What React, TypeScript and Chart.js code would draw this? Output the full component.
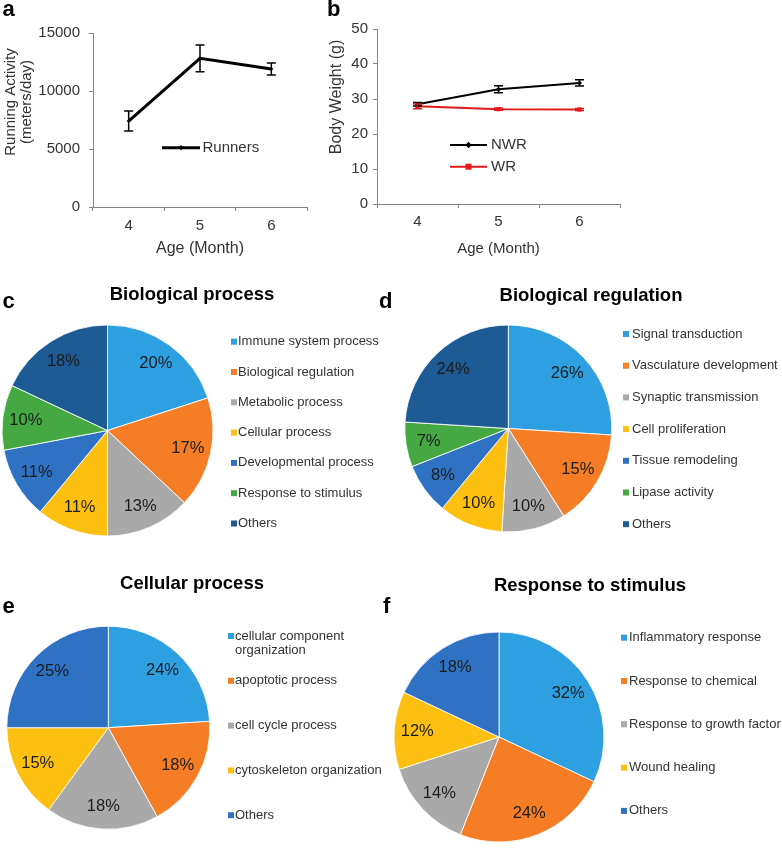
import React, { useEffect, useRef } from "react";
import { Chart, registerables } from "chart.js";

Chart.register(...registerables);

const FONT = '"Liberation Sans", Arial, Helvetica, sans-serif';
const AXIS_GRAY = "#868686";
const TEXT = "#333333";

// ---------- data ----------
const ageMonths = ["4", "5", "6"];
const runnersMean = [7410, 12820, 11900];
const runnersErr = [860, 1150, 520];
const nwrMean = [28.5, 32.8, 34.6];
const nwrErr = [0.5, 1.0, 0.9];
const wrMean = [27.9, 27.1, 27.0];
const wrErr = [0.7, 0.3, 0.3];

const bioProcessLabels = [
  "Immune system process",
  "Biological regulation",
  "Metabolic process",
  "Cellular process",
  "Developmental process",
  "Response to stimulus",
  "Others",
];
const bioProcessValues = [20, 17, 13, 11, 11, 10, 18];

const bioRegLabels = [
  "Signal transduction",
  "Vasculature development",
  "Synaptic transmission",
  "Cell proliferation",
  "Tissue remodeling",
  "Lipase activity",
  "Others",
];
const bioRegValues = [26, 15, 10, 10, 8, 7, 24];

const cellProcLabels = [
  ["cellular component", "organization"],
  "apoptotic process",
  "cell cycle process",
  "cytoskeleton organization",
  "Others",
];
const cellProcValues = [24, 18, 18, 15, 25];

const stimulusLabels = [
  "Inflammatory response",
  "Response to chemical",
  "Response to growth factor",
  "Wound healing",
  "Others",
];
const stimulusValues = [32, 24, 14, 12, 18];

const C_LBLUE = "#2e9fe0";
const C_ORANGE = "#f57d25";
const C_GRAY = "#a9a9a9";
const C_YELLOW = "#fdc010";
const C_BLUE = "#2f72c4";
const C_GREEN = "#45a843";
const C_DBLUE = "#1e5b95";
const sevenColors = [C_LBLUE, C_ORANGE, C_GRAY, C_YELLOW, C_BLUE, C_GREEN, C_DBLUE];
const fiveColors = [C_LBLUE, C_ORANGE, C_GRAY, C_YELLOW, C_BLUE];

// ---------- plugins ----------
const errorBarPlugin = {
  id: "errorBars",
  afterDatasetsDraw(chart: any) {
    const ctx = chart.ctx;
    const yScale = chart.scales.y;
    chart.data.datasets.forEach((ds: any, di: number) => {
      const errs = ds.errorBars;
      if (!errs) return;
      const meta = chart.getDatasetMeta(di);
      ctx.save();
      ctx.strokeStyle = ds.borderColor;
      ctx.lineWidth = ds.errorWidth || 1.5;
      const c = ds.errorCap || 4.5;
      meta.data.forEach((pt: any, i: number) => {
        const v = ds.data[i];
        const e = errs[i];
        const yt = yScale.getPixelForValue(v + e);
        const yb = yScale.getPixelForValue(v - e);
        const x = pt.x;
        ctx.beginPath();
        ctx.moveTo(x, yt);
        ctx.lineTo(x, yb);
        ctx.moveTo(x - c, yt);
        ctx.lineTo(x + c, yt);
        ctx.moveTo(x - c, yb);
        ctx.lineTo(x + c, yb);
        ctx.stroke();
      });
      ctx.restore();
    });
  },
};

function drawMarker(ctx: any, style: string, x: number, y: number, r: number, color: string) {
  ctx.fillStyle = color;
  if (style === "rect") {
    ctx.fillRect(x - r, y - r, 2 * r, 2 * r);
  } else {
    ctx.beginPath();
    ctx.moveTo(x, y - r * 1.3);
    ctx.lineTo(x + r * 1.3, y);
    ctx.lineTo(x, y + r * 1.3);
    ctx.lineTo(x - r * 1.3, y);
    ctx.closePath();
    ctx.fill();
  }
}

const lineLegendPlugin = {
  id: "lineLegend",
  afterDraw(chart: any, _a: any, opts: any) {
    const ctx = chart.ctx;
    (opts.items || []).forEach((it: any, i: number) => {
      const ds = chart.data.datasets[i];
      ctx.save();
      ctx.strokeStyle = ds.borderColor;
      ctx.lineWidth = ds.borderWidth;
      ctx.beginPath();
      ctx.moveTo(it.x1, it.y);
      ctx.lineTo(it.x2, it.y);
      ctx.stroke();
      drawMarker(ctx, ds.pointStyle, (it.x1 + it.x2) / 2, it.y, ds.pointRadius, ds.pointBackgroundColor);
      ctx.fillStyle = TEXT;
      ctx.font = `${opts.size}px ${FONT}`;
      ctx.textAlign = "left";
      ctx.textBaseline = "middle";
      ctx.fillText(ds.label, it.textX, it.y);
      ctx.restore();
    });
  },
};

const yTitlePlugin = {
  id: "yTitle",
  afterDraw(chart: any, _a: any, opts: any) {
    const ctx = chart.ctx;
    ctx.save();
    ctx.fillStyle = TEXT;
    ctx.font = `${opts.size}px ${FONT}`;
    ctx.textAlign = "center";
    ctx.textBaseline = "middle";
    (opts.lines || []).forEach((ln: string, k: number) => {
      ctx.save();
      ctx.translate(opts.xs[k], opts.y);
      ctx.rotate(-Math.PI / 2);
      ctx.fillText(ln, 0, 0);
      ctx.restore();
    });
    ctx.restore();
  },
};

const pieLabelPlugin = {
  id: "pieLabels",
  afterDatasetsDraw(chart: any, _a: any, opts: any) {
    const ctx = chart.ctx;
    const meta = chart.getDatasetMeta(0);
    const ds = chart.data.datasets[0];
    ctx.save();
    ctx.font = `${opts.size}px ${FONT}`;
    ctx.fillStyle = opts.color;
    ctx.textAlign = "center";
    ctx.textBaseline = "middle";
    meta.data.forEach((arc: any, i: number) => {
      const mid = (arc.startAngle + arc.endAngle) / 2;
      const r = arc.outerRadius * opts.radius;
      ctx.fillText(ds.data[i] + "%", arc.x + Math.cos(mid) * r, arc.y + Math.sin(mid) * r);
    });
    ctx.restore();
  },
};

const pieLegendPlugin = {
  id: "pieLegend",
  afterDraw(chart: any, _a: any, opts: any) {
    const ctx = chart.ctx;
    const labels = chart.data.labels;
    const colors = chart.data.datasets[0].backgroundColor;
    ctx.save();
    ctx.font = `${opts.size}px ${FONT}`;
    ctx.textAlign = "left";
    ctx.textBaseline = "middle";
    labels.forEach((lab: any, i: number) => {
      const y = opts.y0 + i * opts.spacing;
      ctx.fillStyle = colors[i];
      ctx.fillRect(opts.boxX, y - opts.box / 2, opts.box, opts.box);
      ctx.fillStyle = TEXT;
      const lines = Array.isArray(lab) ? lab : [lab];
      lines.forEach((ln: string, k: number) => ctx.fillText(ln, opts.textX, y + k * opts.lineHeight));
    });
    ctx.restore();
  },
};

// ---------- layouts ----------
type Rect = { left: number; top: number; w: number; h: number };

const RECT_A: Rect = { left: 0, top: 0, w: 320, h: 270 };
const RECT_B: Rect = { left: 300, top: 0, w: 330, h: 270 };

const PIE_C = { left: 0, top: 310, w: 390, h: 240, cx: 107.5, cy: 430.5, r: 105.5, boxX: 231, textX: 238, y0: 341.7, spacing: 30.3 };
const PIE_D = { left: 390, top: 310, w: 392, h: 240, cx: 508.3, cy: 428.5, r: 103.5, boxX: 623, textX: 632, y0: 334, spacing: 31.7 };
const PIE_E = { left: 0, top: 600, w: 390, h: 250, cx: 108.3, cy: 727.7, r: 101.5, boxX: 228, textX: 235, y0: 636, spacing: 44.8 };
const PIE_F = { left: 390, top: 600, w: 392, h: 253, cx: 499, cy: 737, r: 105, boxX: 621, textX: 629, y0: 637.7, spacing: 43.3 };

function axisX(titleSize: number, tickPad: number, titlePadBottom: number, height: number) {
  return {
    offset: true,
    grid: { offset: true, drawOnChartArea: false, drawTicks: true, tickLength: 4, color: AXIS_GRAY },
    border: { display: true, color: AXIS_GRAY, width: 1 },
    ticks: { color: TEXT, font: { size: 15, family: FONT }, padding: tickPad, maxRotation: 0 },
    title: { display: true, text: "Age (Month)", color: TEXT, font: { size: titleSize, family: FONT }, padding: { top: 0, bottom: titlePadBottom } },
    afterFit: (s: any) => {
      s.height = height;
    },
  };
}

function axisY(max: number, step: number, pad: number, width: number) {
  return {
    min: 0,
    max,
    grid: { drawOnChartArea: false, drawTicks: true, tickLength: 4, color: AXIS_GRAY },
    border: { display: true, color: AXIS_GRAY, width: 1 },
    ticks: { stepSize: step, color: TEXT, font: { size: 15, family: FONT }, padding: pad, callback: (v: any) => String(v) },
    afterFit: (s: any) => {
      s.width = width;
    },
  };
}

function configA() {
  return {
    type: "line",
    data: {
      labels: ageMonths,
      datasets: [
        {
          label: "Runners",
          data: runnersMean,
          errorBars: runnersErr,
          borderColor: "#000000",
          borderWidth: 3,
          pointStyle: "rectRot",
          pointRadius: 2,
          pointBorderWidth: 0,
          pointBackgroundColor: "#000000",
          errorWidth: 1.5,
          errorCap: 4.5,
          tension: 0,
        },
      ],
    },
    options: {
      responsive: false,
      animation: false,
      layout: { padding: { left: 0, top: 33, right: 13, bottom: 0 } },
      plugins: {
        legend: { display: false },
        tooltip: { enabled: false },
        lineLegend: { size: 15, items: [{ x1: 162, x2: 200, y: 147.7, textX: 202.5 }] },
        yTitle: { size: 15, lines: ["Running Activity", "(meters/day)"], xs: [10.5, 26.5], y: 102 },
      },
      scales: {
        x: axisX(16, 5.5, 11.4, 63),
        y: axisY(15000, 5000, 9, 93),
      },
    },
    plugins: [errorBarPlugin, lineLegendPlugin, yTitlePlugin],
  };
}

function configB() {
  const o = RECT_B.left;
  return {
    type: "line",
    data: {
      labels: ageMonths,
      datasets: [
        {
          label: "NWR",
          data: nwrMean,
          errorBars: nwrErr,
          borderColor: "#000000",
          borderWidth: 2,
          pointStyle: "rectRot",
          pointRadius: 2.5,
          pointBorderWidth: 0,
          pointBackgroundColor: "#000000",
          errorWidth: 1.5,
          errorCap: 4.5,
          tension: 0,
        },
        {
          label: "WR",
          data: wrMean,
          errorBars: wrErr,
          borderColor: "#e31a1c",
          borderWidth: 2,
          pointStyle: "rect",
          pointRadius: 3,
          pointBorderWidth: 0,
          pointBackgroundColor: "#e31a1c",
          errorWidth: 1.5,
          errorCap: 4.5,
          tension: 0,
        },
      ],
    },
    options: {
      responsive: false,
      animation: false,
      layout: { padding: { left: 0, top: 29, right: 10, bottom: 0 } },
      plugins: {
        legend: { display: false },
        tooltip: { enabled: false },
        lineLegend: {
          size: 15,
          items: [
            { x1: 450 - o, x2: 487 - o, y: 145, textX: 491 - o },
            { x1: 450 - o, x2: 487 - o, y: 166.7, textX: 491 - o },
          ],
        },
        yTitle: { size: 16, lines: ["Body Weight (g)"], xs: [337 - o], y: 97 },
      },
      scales: {
        x: axisX(15, 4.5, 12, 66),
        y: axisY(50, 10, 5, 77),
      },
    },
    plugins: [errorBarPlugin, lineLegendPlugin, yTitlePlugin],
  };
}

function pieConfig(labels: any[], values: number[], colors: string[], L: any) {
  const half = L.r + 0.5;
  const pad = {
    left: L.cx - half - L.left,
    top: L.cy - half - L.top,
    right: L.left + L.w - (L.cx + half),
    bottom: L.top + L.h - (L.cy + half),
  };
  return {
    type: "pie",
    data: {
      labels,
      datasets: [
        {
          data: values,
          backgroundColor: colors,
          borderColor: "rgba(255,255,255,0.85)",
          borderWidth: 1,
          hoverOffset: 0,
        },
      ],
    },
    options: {
      responsive: false,
      animation: false,
      layout: { padding: pad },
      plugins: {
        legend: { display: false },
        tooltip: { enabled: false },
        pieLabels: { size: 16.5, color: "#1c1c1c", radius: 0.78 },
        pieLegend: {
          size: 13,
          box: 6,
          boxX: L.boxX - L.left,
          textX: L.textX - L.left,
          y0: L.y0 - L.top,
          spacing: L.spacing,
          lineHeight: 14.7,
        },
      },
    },
    plugins: [pieLabelPlugin, pieLegendPlugin],
  };
}

// ---------- components ----------
function ChartCanvas({ rect, make }: { rect: Rect; make: () => any }) {
  const ref = useRef<HTMLCanvasElement>(null);
  useEffect(() => {
    const chart = new Chart(ref.current as HTMLCanvasElement, make() as any);
    return () => chart.destroy();
  }, []);
  return (
    <canvas
      ref={ref}
      width={rect.w}
      height={rect.h}
      style={{ position: "absolute", left: rect.left, top: rect.top, width: rect.w, height: rect.h }}
    />
  );
}

function PanelLetter({ text, left, baseline }: { text: string; left: number; baseline: number }) {
  return (
    <div
      style={{
        position: "absolute",
        left,
        top: baseline - 18.6,
        font: `bold 22px/22px ${FONT}`,
        color: "#000",
        whiteSpace: "nowrap",
      }}
    >
      {text}
    </div>
  );
}

function PieTitle({ text, cx, baseline }: { text: string; cx: number; baseline: number }) {
  return (
    <div
      style={{
        position: "absolute",
        left: cx - 200,
        width: 400,
        top: baseline - 15.66,
        textAlign: "center",
        font: `bold 18.5px/18.5px ${FONT}`,
        color: "#000",
        whiteSpace: "nowrap",
      }}
    >
      {text}
    </div>
  );
}

export default function App() {
  return (
    <div
      style={{
        position: "absolute",
        left: 0,
        top: 0,
        width: 782,
        height: 853,
        background: "#ffffff",
        overflow: "hidden",
        fontFamily: FONT,
      }}
    >
      <ChartCanvas rect={RECT_A} make={configA} />
      <ChartCanvas rect={RECT_B} make={configB} />
      <ChartCanvas rect={PIE_C} make={() => pieConfig(bioProcessLabels, bioProcessValues, sevenColors, PIE_C)} />
      <ChartCanvas rect={PIE_D} make={() => pieConfig(bioRegLabels, bioRegValues, sevenColors, PIE_D)} />
      <ChartCanvas rect={PIE_E} make={() => pieConfig(cellProcLabels, cellProcValues, fiveColors, PIE_E)} />
      <ChartCanvas rect={PIE_F} make={() => pieConfig(stimulusLabels, stimulusValues, fiveColors, PIE_F)} />

      <PanelLetter text="a" left={2.5} baseline={16.7} />
      <PanelLetter text="b" left={327} baseline={16.7} />
      <PanelLetter text="c" left={2.5} baseline={308.3} />
      <PanelLetter text="d" left={379} baseline={308.3} />
      <PanelLetter text="e" left={2.5} baseline={614} />
      <PanelLetter text="f" left={383} baseline={613.3} />

      <PieTitle text="Biological process" cx={192} baseline={301} />
      <PieTitle text="Biological regulation" cx={591} baseline={302} />
      <PieTitle text="Cellular process" cx={192} baseline={590} />
      <PieTitle text="Response to stimulus" cx={590} baseline={592} />
    </div>
  );
}
